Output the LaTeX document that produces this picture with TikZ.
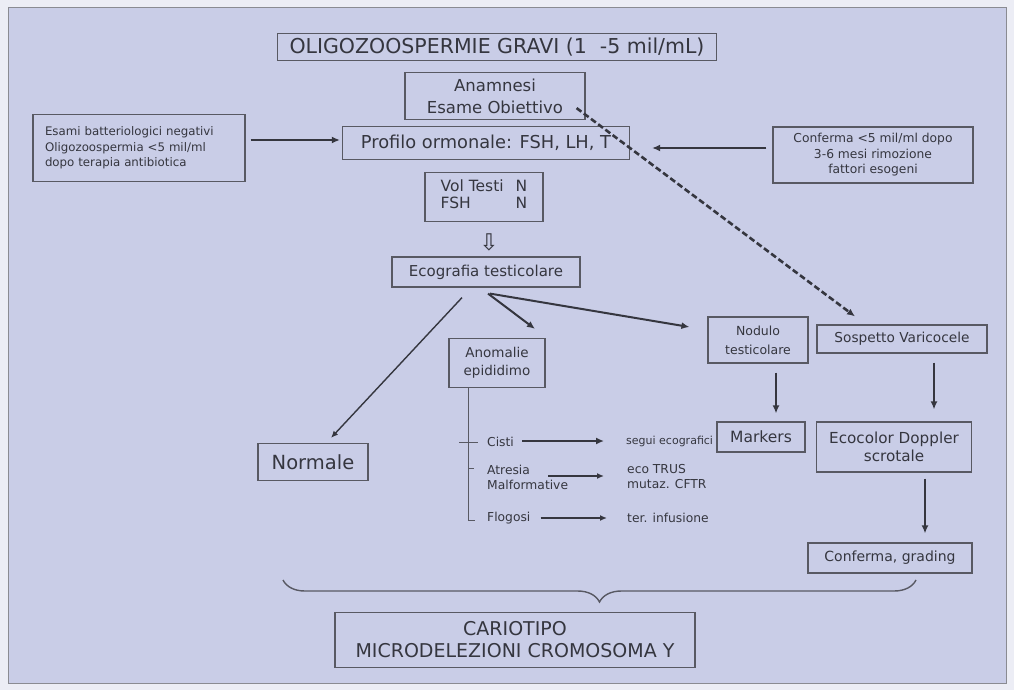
\documentclass[tikz,border=0pt]{standalone}
\usepackage{fontspec}
\setmainfont{DejaVu Sans}
\usetikzlibrary{arrows.meta,decorations.pathreplacing,calc}
\definecolor{bgpage}{HTML}{ECEDF5}
\definecolor{panel}{HTML}{C9CDE7}
\definecolor{ink}{HTML}{35363F}
\definecolor{edge}{HTML}{585963}
\newcommand{\fs}[2]{\fontsize{#1}{#2}\selectfont}
\begin{document}
\begin{tikzpicture}[x=1pt,y=-1pt,
  box/.style={draw=edge, line width=1.2pt, fill=panel, inner sep=2pt, text=ink, align=center},
  plain/.style={inner sep=0pt, text=ink, align=left, anchor=west},
  arr/.style={-{Latex[length=8pt,width=7pt]}, line width=2pt, draw=ink},
  thinarr/.style={-{Latex[length=7pt,width=6pt]}, line width=1.4pt, draw=ink},
  dasharr/.style={-{Latex[length=8pt,width=7pt]}, line width=2.6pt, draw=ink, dash pattern=on 6pt off 3pt},
  twig/.style={line width=1pt, draw=edge}]

% page and panel
\fill[bgpage] (0,0) rectangle (1014,690);
\fill[panel] (8,8) rectangle (1006,683);
\draw[edge!70, line width=1pt] (8,8) rectangle (1006,683);
\useasboundingbox (0,0) rectangle (1014,690);

% boxes
\node[box, minimum width=439pt, minimum height=27pt, font=\fs{20.5}{22}] (title) at (497,47)
  {OLIGOZOOSPERMIE GRAVI (1 \ -5 mil/mL)};
\node[box, minimum width=180pt, minimum height=47pt, font=\fs{16.5}{22}] (anam) at (495,96)
  {Anamnesi\\Esame Obiettivo};
\node[box, minimum width=287pt, minimum height=33pt, font=\fs{17.8}{20}] (prof) at (486,143)
  {Profilo ormonale: FSH, LH, T};
\node[box, minimum width=212pt, minimum height=56pt, text width=188pt, inner sep=12pt,
      font=\fs{11.8}{15.5}, align=left] (lbox) at (139,148)
  {Esami batteriologici negativi\\Oligozoospermia <5 mil/ml\\dopo terapia antibiotica};
\node[box, minimum width=200pt, minimum height=56pt, font=\fs{12.3}{15.5}] (rbox) at (873,155)
  {Conferma <5 mil/ml dopo\\3-6 mesi rimozione\\fattori esogeni};
\node[box, minimum width=118pt, minimum height=49pt, font=\fs{15.5}{17}] (vol) at (484,197)
  {\begin{tabular}{@{}l@{\hspace{12pt}}r@{}}Vol Testi & N\\ FSH & N\end{tabular}};
\node[inner sep=0pt, text=ink, font=\fs{23}{24}] (down) at (489,242) {⇩};
\node[box, minimum width=188pt, minimum height=30pt, font=\fs{15}{17}] (eco) at (486,272)
  {Ecografia testicolare};
\node[box, minimum width=96pt, minimum height=49pt, font=\fs{13.5}{18}] (anom) at (497,363)
  {Anomalie\\epididimo};
\node[box, minimum width=100pt, minimum height=46pt, font=\fs{12.5}{19}] (nod) at (758,340)
  {Nodulo\\testicolare};
\node[box, minimum width=170pt, minimum height=28pt, font=\fs{13.7}{16}] (sosp) at (902,339)
  {Sospetto Varicocele};
\node[box, minimum width=155pt, minimum height=50pt, font=\fs{15.2}{18}] (doppler) at (894,447)
  {Ecocolor Doppler\\scrotale};
\node[box, minimum width=164pt, minimum height=30pt, font=\fs{14}{16}] (conf) at (890,558)
  {Conferma, grading};
\node[box, minimum width=110pt, minimum height=37pt, font=\fs{19.5}{22}] (norm) at (313,462)
  {Normale};
\node[box, minimum width=360pt, minimum height=55pt, font=\fs{19}{22}] (kar) at (515,640)
  {CARIOTIPO\\MICRODELEZIONI CROMOSOMA Y};

% findings under the epididymis box
\node[plain, font=\fs{12.3}{15}] (cisti) at (487,442) {Cisti};
\node[plain, font=\fs{12.3}{15}] (atres) at (487,477) {Atresia\\Malformative};
\node[plain, font=\fs{12.3}{15}] (flog) at (487,518) {Flogosi};
\node[plain, font=\fs{11}{15}] (rcisti) at (626,441) {segui ecografici};
\node[plain, font=\fs{12.3}{15}] (ratres) at (627,477) {eco TRUS\\mutaz. CFTR};
\node[plain, font=\fs{12.3}{15}] (rflog) at (627,518) {ter. infusione};

% the markers box sits over the end of the text beside it
\node[box, minimum width=88pt, minimum height=30pt, font=\fs{15.5}{17}] (mark) at (761,437)
  {Markers};

% connectors
\draw[arr] ($(lbox.east)+(5,-8)$) -- ($(prof.west)+(-2,-3)$);
\draw[arr] ($(rbox.west)+(-6,-7)$) -- ($(prof.east)+(22,5)$);
\draw[dasharr] ($(anam.south east)+(-9,-12)$) -- ($(sosp.north)+(-47,-8)$);

\draw[thinarr] ($(eco.south)+(-24,10)$) -- ($(norm.north)+(18,-5)$);
\draw[arr] ($(eco.south)+(2,6)$) -- ($(anom.north)+(38,-9)$);
\draw[arr] ($(eco.south)+(4,6)$) -- ($(nod.west)+(-18,-13)$);

\draw[arr] ($(nod.south)+(18,9)$) -- ($(mark.north)+(15,-8)$);
\draw[arr] ($(sosp.south)+(32,9)$) -- ($(doppler.north)+(40,-12)$);
\draw[arr] ($(doppler.south)+(31,6)$) -- ($(conf.north)+(35,-9)$);

% tree of the epididymis findings
\coordinate (trunk) at ($(anom.south)+(-29,0)$);
\coordinate (trunkend) at ($(trunk)+(0,132)$);
\draw[twig] (trunk) -- (trunkend) -- ++(7,0);
\draw[twig] ($(trunk)+(-9,54)$) -- ++(19,0);
\draw[twig] ($(trunk)+(0,80)$) -- ++(6,0);

\draw[arr] ($(cisti.east)+(8,-1)$) -- ($(rcisti.west)+(-22,0)$);
\draw[thinarr] ($(atres.east)+(-20,-1)$) -- ($(ratres.west)+(-23,-1)$);
\draw[thinarr] ($(flog.east)+(10,0)$) -- ($(rflog.west)+(-20,0)$);

% brace gathering the branches
\coordinate (braceR) at (916,580);
\coordinate (braceL) at (283,580);
\draw[edge, line width=1.4pt, decorate, decoration={brace, amplitude=22pt, mirror}]
  (braceL) -- (braceR);
\end{tikzpicture}
\end{document}
